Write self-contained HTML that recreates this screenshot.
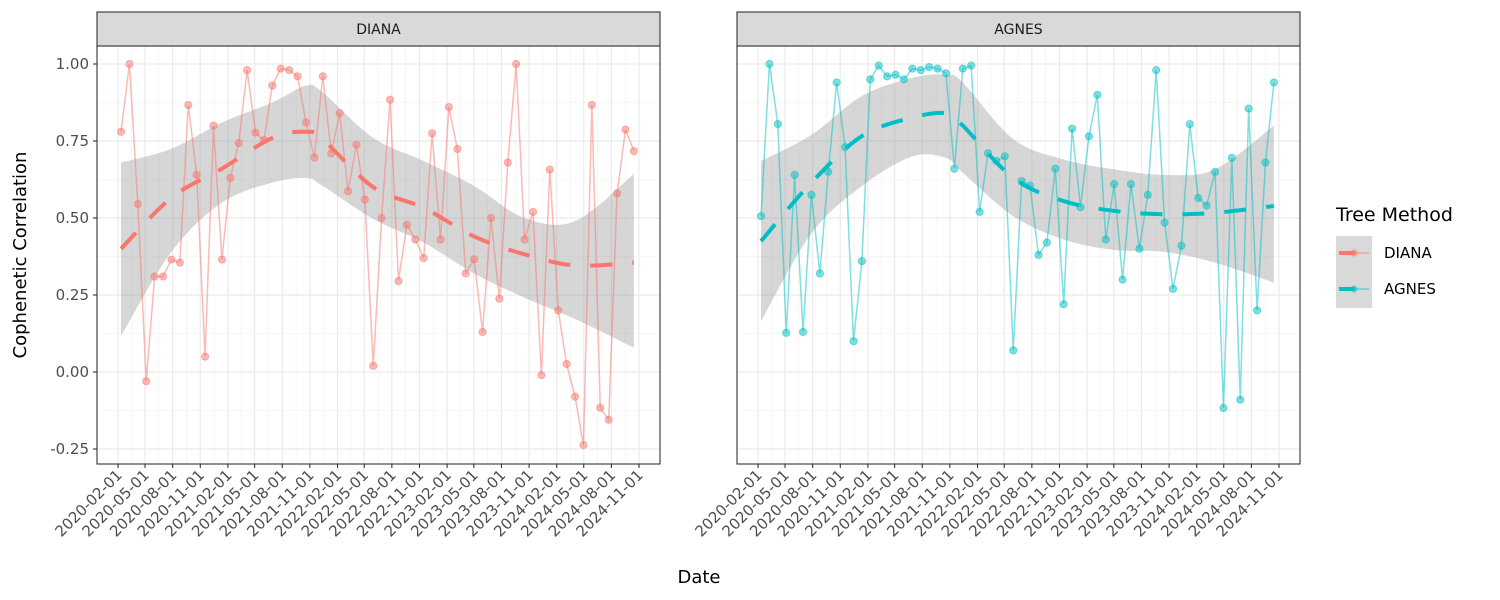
<!DOCTYPE html>
<html><head><meta charset="utf-8"><style>
body{margin:0;background:#fff;}
svg{display:block;font-family:"DejaVu Sans","Liberation Sans",sans-serif;}
</style></head><body>
<svg id="chart" width="1500" height="600"></svg>
<script>
const methods = ["DIANA","AGNES"];
const colors = ["#F8766D","#00BFC4"];
const startDate = "2020-02-11";
const stepDays = 28;
const dianaValues = [0.78,1.00,0.545,-0.03,0.31,0.31,0.365,0.355,0.867,0.64,0.05,0.80,0.365,0.63,0.743,0.98,0.777,0.753,0.93,0.985,0.98,0.96,0.81,0.696,0.96,0.71,0.84,0.587,0.738,0.56,0.02,
0.50,0.884,0.295,0.478,0.43,0.37,0.775,0.43,0.86,0.724,0.32,0.366,0.13,0.50,0.238,0.68,1.00,0.43,0.52,-0.01,0.657,0.20,0.026,-0.08,-0.237,0.867,-0.116,-0.155,0.58,0.787,0.717];
const agnesValues = [0.506,1.00,0.805,0.127,0.64,0.13,0.575,0.32,0.65,0.94,0.73,0.10,0.36,0.95,0.995,0.96,0.965,0.95,0.985,0.98,0.99,0.985,0.97,0.66,0.985,0.995,0.52,0.71,0.685,0.70,0.07,
0.62,0.605,0.38,0.42,0.66,0.22,0.79,0.535,0.765,0.90,0.43,0.61,0.30,0.61,0.40,0.575,0.98,0.485,0.27,0.41,0.805,0.565,0.54,0.65,-0.117,0.695,-0.09,0.855,0.20,0.68,0.94];
const smoothIdx = [0,6,12,18,22,24,30,36,42,48,54,61];
const dianaFit = [0.40,0.566,0.66,0.76,0.78,0.755,0.60,0.533,0.44,0.382,0.346,0.355];
const dianaLo  = [0.117,0.39,0.55,0.615,0.63,0.604,0.497,0.42,0.32,0.241,0.172,0.079];
const dianaHi  = [0.68,0.725,0.81,0.875,0.93,0.907,0.76,0.685,0.604,0.50,0.49,0.643];
const agnesFit = [0.425,0.615,0.766,0.826,0.84,0.80,0.63,0.555,0.523,0.512,0.517,0.539];
const agnesLo  = [0.165,0.45,0.604,0.70,0.695,0.647,0.506,0.43,0.396,0.39,0.355,0.29];
const agnesHi  = [0.685,0.77,0.896,0.955,0.965,0.94,0.756,0.69,0.658,0.64,0.658,0.80];
const yTicks = [-0.25,0,0.25,0.5,0.75,1.0];
const yTickLabels = ["-0.25","0.00","0.25","0.50","0.75","1.00"];
const xTickDates = ["2020-02-01","2020-05-01","2020-08-01","2020-11-01","2021-02-01","2021-05-01","2021-08-01","2021-11-01","2022-02-01","2022-05-01","2022-08-01","2022-11-01","2023-02-01","2023-05-01","2023-08-01","2023-11-01","2024-02-01","2024-05-01","2024-08-01","2024-11-01"];

const NS="http://www.w3.org/2000/svg";
const svg=document.getElementById('chart');
function mk(tag,attrs,parent){const e=document.createElementNS(NS,tag);for(const k in attrs)e.setAttribute(k,attrs[k]);(parent||svg).appendChild(e);return e;}
const DAY=86400000;
const t0=Date.parse("2020-02-01"), t1=Date.parse("2024-11-01");
const panelTop=46, panelBot=464, panelW=563;
const panels=[97,737];
function y(v){return 372 - v*308;}
function xDate(ms,px){return px+21+(ms-t0)/(t1-t0)*521;}
const s0=Date.parse(startDate);
function pointDate(i){return s0+i*stepDays*DAY;}
function catmull(pts){let d="M"+pts[0][0]+","+pts[0][1];for(let i=0;i<pts.length-1;i++){const p0=pts[Math.max(0,i-1)],p1=pts[i],p2=pts[i+1],p3=pts[Math.min(pts.length-1,i+2)];
const c1=[p1[0]+(p2[0]-p0[0])/6,p1[1]+(p2[1]-p0[1])/6],c2=[p2[0]-(p3[0]-p1[0])/6,p2[1]-(p3[1]-p1[1])/6];d+=" C"+c1+" "+c2+" "+p2;}return d;}
const series=[[dianaValues,dianaFit,dianaLo,dianaHi],[agnesValues,agnesFit,agnesLo,agnesHi]];

panels.forEach((px,pi)=>{
  const g=mk('g',{});
  
  
  mk('rect',{x:px,y:panelTop,width:panelW,height:panelBot-panelTop,fill:'#fff'},g);
  for(let i=0;i<yTicks.length-1;i++){const v=(yTicks[i]+yTicks[i+1])/2;mk('line',{x1:px,x2:px+panelW,y1:y(v),y2:y(v),stroke:'#f0f0f0','stroke-width':0.6},g);}
  mk('line',{x1:px,x2:px+panelW,y1:y(1.125),y2:y(1.125),stroke:'#f0f0f0','stroke-width':0.6},g);
  for(let i=0;i<xTickDates.length-1;i++){const m=(Date.parse(xTickDates[i])+Date.parse(xTickDates[i+1]))/2;const xx=xDate(m,px);mk('line',{x1:xx,x2:xx,y1:panelTop,y2:panelBot,stroke:'#f0f0f0','stroke-width':0.6},g);}
  yTicks.forEach(v=>mk('line',{x1:px,x2:px+panelW,y1:y(v),y2:y(v),stroke:'#ebebeb','stroke-width':1.2},g));
  xTickDates.forEach(d=>{const xx=xDate(Date.parse(d),px);mk('line',{x1:xx,x2:xx,y1:panelTop,y2:panelBot,stroke:'#ebebeb','stroke-width':1.2},g);});
  const [vals,fit,lo,hi]=series[pi];
  const up=smoothIdx.map((k,j)=>[xDate(pointDate(k),px),y(hi[j])]);
  const dn=smoothIdx.map((k,j)=>[xDate(pointDate(k),px),y(lo[j])]).reverse();
  const band=mk('path',{d:catmull(up)+" L"+dn[0]+" "+catmull(dn).slice(1)+" Z",fill:'#999',opacity:0.4},g);
  
  
  const pts=vals.map((v,i)=>[xDate(pointDate(i),px),y(v)]);
  const ln=mk('polyline',{points:pts.map(p=>p.join(',')).join(' '),fill:'none',stroke:colors[pi],'stroke-width':1.5,opacity:0.5},g);
  
  
  pts.forEach(p=>{const c=mk('circle',{cx:p[0],cy:p[1],r:3.6,fill:colors[pi],'fill-opacity':0.5,stroke:colors[pi],'stroke-opacity':0.5},g);
    
    });
  const fp=smoothIdx.map((k,j)=>[xDate(pointDate(k),px),y(fit[j])]);
  const fl=mk('path',{d:catmull(fp),fill:'none',stroke:colors[pi],'stroke-width':4,'stroke-dasharray':'22 20'},g);
  
  
  mk('rect',{x:px,y:panelTop,width:panelW,height:panelBot-panelTop,fill:'none',stroke:'#333','stroke-width':1.1},g);
  const st=mk('rect',{x:px,y:12,width:panelW,height:34,fill:'#d9d9d9',stroke:'#333','stroke-width':1.1},g);
  
  
  const tt=mk('text',{x:px+panelW/2,y:34,'text-anchor':'middle','font-size':14,fill:'#1a1a1a'},g);tt.textContent=methods[pi];
  
  
  xTickDates.forEach(d=>{const xx=xDate(Date.parse(d),px);mk('line',{x1:xx,x2:xx,y1:panelBot,y2:panelBot+4,stroke:'#333','stroke-width':1.1},g);
    const t=mk('text',{x:xx+5,y:panelBot+12,'text-anchor':'end','font-size':15,fill:'#4d4d4d',transform:`rotate(-45 ${xx+5} ${panelBot+12})`},g);t.textContent=d;
    
    });
  if(pi===0){yTicks.forEach((v,i)=>{mk('line',{x1:px-4,x2:px,y1:y(v),y2:y(v),stroke:'#333','stroke-width':1.1},g);
    const t=mk('text',{x:px-8,y:y(v)+5,'text-anchor':'end','font-size':15,fill:'#4d4d4d'},g);t.textContent=yTickLabels[i];
    
    });}
});
const yt=mk('text',{x:0,y:0,'text-anchor':'middle','font-size':18,fill:'#000',transform:'translate(26 255) rotate(-90)'});yt.textContent="Cophenetic Correlation";


const xt=mk('text',{x:699,y:583,'text-anchor':'middle','font-size':18,fill:'#000'});xt.textContent="Date";


const lg=mk('g',{});


const lt=mk('text',{x:1336,y:221,'font-size':19,fill:'#000'},lg);lt.textContent="Tree Method";


mk('rect',{x:1336,y:236,width:36,height:72,fill:'#d9d9d9'},lg);
methods.forEach((m,i)=>{const cy=253+i*36;
  const e=mk('g',{},lg);
  
  
  mk('line',{x1:1339,x2:1369,y1:cy,y2:cy,stroke:colors[i],'stroke-width':1.5,opacity:0.5},e);
  mk('line',{x1:1339,x2:1355,y1:cy,y2:cy,stroke:colors[i],'stroke-width':4},e);
  mk('circle',{cx:1354,cy:cy,r:3.6,fill:colors[i],'fill-opacity':0.5},e);
  const t=mk('text',{x:1384,y:cy+5,'font-size':15,fill:'#000'},e);t.textContent=m;});
</script>
</body></html>
